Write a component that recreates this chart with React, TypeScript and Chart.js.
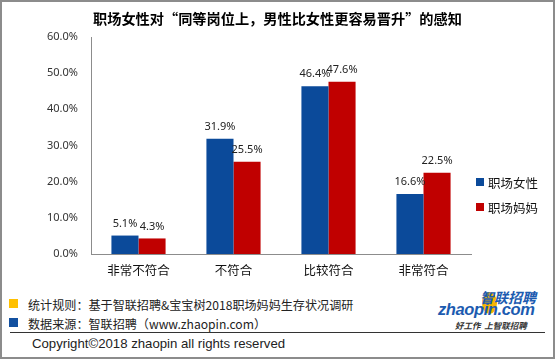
import React, { useEffect, useRef } from "react";
import { Chart, registerables } from "chart.js";

Chart.register(...registerables);

const titleText = "职场女性对“同等岗位上，男性比女性更容易晋升”的感知";
const categories = ["非常不符合", "不符合", "比较符合", "非常符合"];
const seriesNames = ["职场女性", "职场妈妈"];
const womenValues = [5.1, 31.9, 46.4, 16.6];
const momValues = [4.3, 25.5, 47.6, 22.5];
const yMin = 0;
const yMax = 60;
const yStep = 10;
const seriesColors = ["#0B4A9A", "#C00000"];
const footRule = "统计规则：基于智联招聘&宝宝树2018职场妈妈生存状况调研";
const footSource = "数据来源：智联招聘（www.zhaopin.com）";
const copyright = "Copyright©2018 zhaopin all rights reserved";

const CJK = "'Noto Sans CJK SC', 'Noto Sans', sans-serif";

const labelPlugin = {
  id: "barLabels",
  afterDatasetsDraw(chart: any) {
    const ctx = chart.ctx;
    ctx.save();
    ctx.font = "11px 'Noto Sans', sans-serif";
    ctx.fillStyle = "#222222";
    ctx.textAlign = "center";
    ctx.textBaseline = "middle";
    chart.data.datasets.forEach((ds: any, di: number) => {
      const meta = chart.getDatasetMeta(di);
      meta.data.forEach((el: any, i: number) => {
        ctx.fillText(Number(ds.data[i]).toFixed(1) + "%", el.x, el.y - 12);
      });
    });
    ctx.restore();
  },
};

export default function App() {
  const ref = useRef<HTMLCanvasElement | null>(null);

  useEffect(() => {
    if (!ref.current) return;
    const chart = new Chart(ref.current, {
      type: "bar",
      data: {
        labels: categories,
        datasets: [
          { label: seriesNames[0], data: womenValues, backgroundColor: seriesColors[0], borderWidth: 0 },
          { label: seriesNames[1], data: momValues, backgroundColor: seriesColors[1], borderWidth: 0 },
        ],
      },
      options: {
        responsive: false,
        animation: false,
        devicePixelRatio: 1,
        layout: { padding: { left: 0, right: 84, top: 37, bottom: 0 } },
        datasets: { bar: { categoryPercentage: 0.57, barPercentage: 1 } },
        plugins: {
          legend: { display: false },
          tooltip: { enabled: false },
          title: { display: false },
        },
        scales: {
          x: {
            grid: { display: false, drawTicks: false },
            border: { display: true, color: "#8c8c8c", width: 1 },
            ticks: { color: "#111111", font: { family: CJK, size: 12.5 }, padding: 9, maxRotation: 0 },
            afterFit: (s: any) => { s.height = 31; },
          },
          y: {
            min: yMin,
            max: yMax,
            grid: { display: false, drawTicks: false },
            border: { display: true, color: "#8c8c8c", width: 1 },
            ticks: {
              stepSize: yStep,
              color: "#333333",
              font: { family: "'Noto Sans', sans-serif", size: 11 },
              padding: 13,
              callback: (v: any) => Number(v).toFixed(1) + "%",
            },
            afterFit: (s: any) => { s.width = 91; },
          },
        },
      },
      plugins: [labelPlugin],
    });
    return () => chart.destroy();
  }, []);

  const abs = (o: React.CSSProperties): React.CSSProperties => ({ position: "absolute", whiteSpace: "nowrap", ...o });

  return (
    <div style={{ position: "fixed", left: 0, top: 0, width: 555, height: 359, background: "#ffffff", overflow: "hidden" }}>
      <canvas ref={ref} width={555} height={285} style={{ position: "absolute", left: 0, top: 0 }} />
      {/* title */}
      <div style={abs({ left: 0, top: 9, width: 555, textAlign: "center", fontFamily: CJK, fontSize: 14.2, fontWeight: "bold", lineHeight: "18px", color: "#000" })}>{titleText}</div>
      {/* legend */}
      <div style={abs({ left: 476, top: 178, width: 8, height: 8, background: seriesColors[0] })} />
      <div style={abs({ left: 488, top: 174.5, fontFamily: CJK, fontSize: 12.5, lineHeight: "15px", color: "#111" })}>{seriesNames[0]}</div>
      <div style={abs({ left: 476, top: 203, width: 8, height: 8, background: seriesColors[1] })} />
      <div style={abs({ left: 488, top: 199.5, fontFamily: CJK, fontSize: 12.5, lineHeight: "15px", color: "#111" })}>{seriesNames[1]}</div>
      {/* footer */}
      <div style={abs({ left: 9, top: 299, width: 9, height: 9, background: "#FFC000" })} />
      <div style={abs({ left: 28, top: 296.5, fontFamily: CJK, fontSize: 12.1, lineHeight: "15px", color: "#222" })}>{footRule}</div>
      <div style={abs({ left: 9, top: 318, width: 9, height: 9, background: "#1250A0" })} />
      <div style={abs({ left: 28, top: 316, fontFamily: CJK, fontSize: 12.1, lineHeight: "15px", color: "#222" })}>{footSource}</div>
      <div style={abs({ left: 10, top: 332, width: 535, height: 1, background: "#333" })} />
      <div style={abs({ left: 32, top: 336, fontFamily: "'Liberation Sans', sans-serif", fontSize: 13.2, lineHeight: "16px", color: "#222" })}>{copyright}</div>
      {/* logo */}
      <div style={abs({ left: 482, top: 292, width: 15, height: 22, borderRadius: "50%", background: "#F7B500" })} />
      <div style={abs({ left: 480, top: 288, fontFamily: CJK, fontSize: 14, fontWeight: "bold", fontStyle: "italic", lineHeight: "18px", color: "#1C5BB0" })}>智联招聘</div>
      <div style={abs({ left: 438, top: 299, fontFamily: "'Liberation Sans', sans-serif", fontSize: 16.5, letterSpacing: "-0.4px", fontWeight: "bold", fontStyle: "italic", lineHeight: "20px", color: "#1C5BB0" })}>zhaopin.com</div>
      <div style={abs({ left: 455, top: 319.5, fontFamily: CJK, fontSize: 8.5, fontWeight: "bold", fontStyle: "italic", lineHeight: "11px", color: "#333" })}>好工作&nbsp;&nbsp;上智联招聘</div>
      {/* border */}
      <div style={abs({ left: 0, top: 0, width: 555, height: 359, boxSizing: "border-box", border: "2px solid #8c8c8c", pointerEvents: "none" })} />
    </div>
  );
}
